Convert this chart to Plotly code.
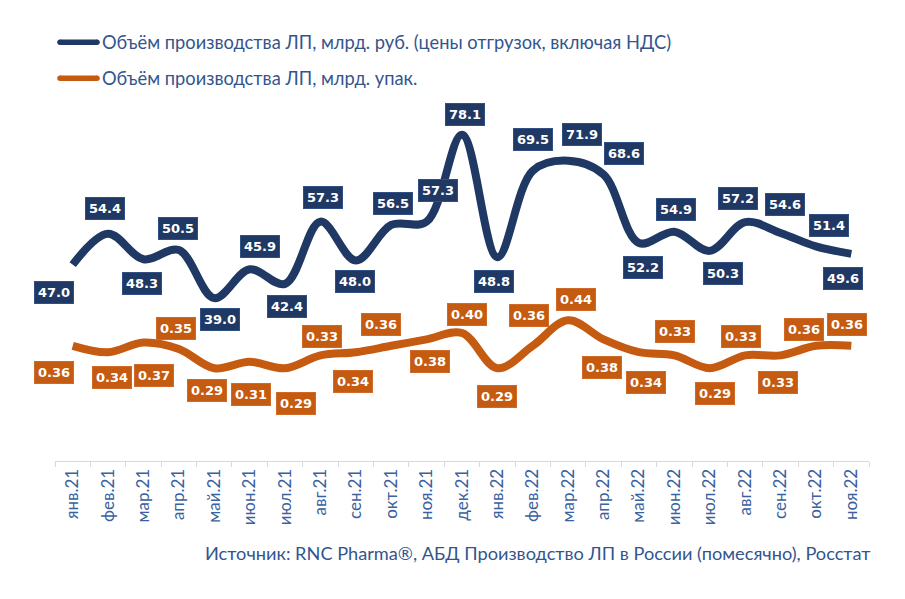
import plotly.graph_objects as go

months = ["янв.21", "фев.21", "мар.21", "апр.21", "май.21", "июн.21", "июл.21", "авг.21",
          "сен.21", "окт.21", "ноя.21", "дек.21", "янв.22", "фев.22", "мар.22", "апр.22",
          "май.22", "июн.22", "июл.22", "авг.22", "сен.22", "окт.22", "ноя.22"]
rub_bn = [47.0, 54.4, 48.3, 50.5, 39.0, 45.9, 42.4, 57.3, 48.0, 56.5, 57.3, 78.1,
          48.8, 69.5, 71.9, 68.6, 52.2, 54.9, 50.3, 57.2, 54.6, 51.4, 49.6]
packs_bn = [0.36, 0.34, 0.37, 0.35, 0.29, 0.31, 0.29, 0.33, 0.34, 0.36, 0.38, 0.40,
            0.29, 0.36, 0.44, 0.38, 0.34, 0.33, 0.29, 0.33, 0.33, 0.36, 0.36]
name_rub = "Объём производства ЛП, млрд. руб. (цены отгрузок, включая НДС)"
name_packs = "Объём производства ЛП, млрд. упак."
source = "Источник: RNC Pharma®, АБД Производство ЛП в России (помесячно), Росстат"

# label offsets in pixels (dx right, dy down) - layout only
rub_off = [(-19, 28), (-3, -25), (-1, 24), (-1, -22), (6, 21), (10, -23), (2, 23), (3, -24),
           (-1, 21), (2, -21), (11, -31), (3, -20), (-3, 24), (0, -31), (14, -26), (20, -21),
           (4, 25), (2, -22), (13, 23), (-7, -24), (4, -28), (13, -21), (-8, 25)]
pk_off = [(-19, 27), (4, 25), (11, 33), (-3, -20), (-7, 22), (1, 33), (11, 35), (2, -19),
          (-3, 29), (-10, -21), (3, 22), (5, -18), (0, 28), (-4, -30), (8, -21), (-2, 28),
          (7, 30), (1, -24), (5, 25), (-4, -19), (-3, 27), (-12, -16), (-4, -21)]

BLUE = "#1F3864"
ORANGE = "#C55A11"
TXT = "#33558E"

ML, MR, MT, MB = 55, 36, 60, 138
W, H = 905, 599
PW, PH = W - ML - MR, H - MT - MB


def px2paper(px, py):
    return (px - ML) / PW, (H - MB - py) / PH


fig = go.Figure()
fig.add_trace(go.Scatter(x=months, y=rub_bn, mode="lines", name=name_rub,
                         line=dict(color=BLUE, width=8, shape="spline", smoothing=1.0),
                         yaxis="y", showlegend=False, hoverinfo="skip"))
fig.add_trace(go.Scatter(x=months, y=packs_bn, mode="lines", name=name_packs,
                         line=dict(color=ORANGE, width=8, shape="spline", smoothing=1.0),
                         yaxis="y2", showlegend=False, hoverinfo="skip"))

annotations = []
lab_font = dict(family="DejaVu Sans", size=13, color="white")
for m, v, (dx, dy) in zip(months, rub_bn, rub_off):
    annotations.append(dict(x=m, y=v, xref="x", yref="y", text="<b>%.1f</b>" % v,
                            showarrow=False, xshift=dx, yshift=-dy, font=lab_font,
                            bgcolor=BLUE, bordercolor="#2F4F85", borderwidth=1, borderpad=3))
for m, v, (dx, dy) in zip(months, packs_bn, pk_off):
    annotations.append(dict(x=m, y=v, xref="x", yref="y2", text="<b>%.2f</b>" % v,
                            showarrow=False, xshift=dx, yshift=-dy, font=lab_font,
                            bgcolor=ORANGE, bordercolor="#D06A28", borderwidth=1, borderpad=3))

shapes = []
for name, col, py in [(name_rub, BLUE, 42.3), (name_packs, ORANGE, 78.3)]:
    x0, y0 = px2paper(60, py)
    x1, _ = px2paper(97, py)
    shapes.append(dict(type="line", xref="paper", yref="paper", x0=x0, x1=x1, y0=y0, y1=y0,
                       line=dict(color=col, width=5.5)))
    for xe in (x0, x1):
        shapes.append(dict(type="circle", xref="paper", yref="paper", xsizemode="pixel",
                           ysizemode="pixel", xanchor=xe, yanchor=y0, x0=-2.75, x1=2.75,
                           y0=-2.75, y1=2.75, fillcolor=col, line=dict(width=0)))
    tx, ty = px2paper(100, py)
    annotations.append(dict(x=tx, y=ty, xref="paper", yref="paper", text=name,
                            showarrow=False, xanchor="left", yanchor="middle",
                            font=dict(family="Lato", size=18.3, color=TXT)))

sx, sy = px2paper(872, 553)
annotations.append(dict(x=sx, y=sy, xref="paper", yref="paper", text=source,
                        showarrow=False, xanchor="right", yanchor="middle",
                        font=dict(family="Lato", size=18.2, color=TXT)))

fig.update_layout(
    width=W, height=H,
    margin=dict(l=ML, r=MR, t=MT, b=MB),
    paper_bgcolor="white", plot_bgcolor="white",
    xaxis=dict(type="category", tickangle=-90, showgrid=False, showline=True,
               linecolor="#D9D9D9", linewidth=1, ticks="outside", ticklen=5,
               tickcolor="#D9D9D9", tickson="boundaries",
               tickfont=dict(family="Lato", size=17, color="#3A61A0"),
               range=[-0.5, len(months) - 0.5], fixedrange=True),
    yaxis=dict(range=[0, 96], visible=False, showgrid=False, zeroline=False),
    yaxis2=dict(range=[0, 1.253], overlaying="y", side="right", visible=False,
                showgrid=False, zeroline=False),
    annotations=annotations,
    shapes=shapes,
)

fig.write_html("out.html", config={"displayModeBar": False},
               post_script="document.body.style.margin='0';")
